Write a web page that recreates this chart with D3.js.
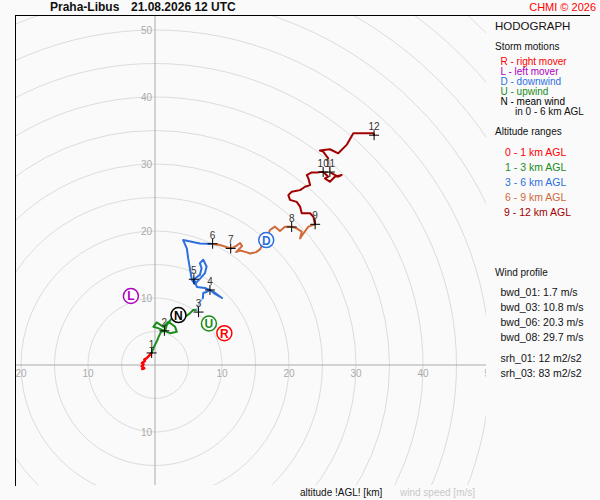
<!doctype html>
<html lang="en">
<head>
  <meta charset="utf-8">
  <script src="https://cdnjs.cloudflare.com/ajax/libs/d3/7.8.5/d3.min.js"></script>
  <style>
    body { margin:0; background:#fafafa; }
    svg { display:block; font-family:"Liberation Sans", Arial, sans-serif; }
  </style>
</head>
<body>
<svg id="chart" width="600" height="500"></svg>
<script>
  // hodograph traces, [u, v] in m/s, one array per altitude range
  var seg01 = [[-1.9,-0.6],[-1.6,-0.5],[-2.0,-0.2],[-1.7,0.1],[-1.95,0.3],[-1.5,0.6],[-1.6,0.8],[-1.2,1.05],[-0.9,1.35],[-0.5,1.8]];
  var seg13 = [[-0.5,1.8],[-0.15,2.7],[0.3,3.6],[0.6,4.35],[0.9,4.95],[1.4,5.1],[0.45,5.5],[-0.25,5.7],[0.25,6.35],[1.25,5.7],[2.0,6.45],[3.0,5.7],[3.25,4.95],[2.25,4.75],[1.5,5.05],[1.75,5.95],[2.5,6.95],[3.5,6.45],[4.5,7.2],[5.2,7.7],[5.7,8.2],[6.3,8.25]];
  var seg36gap = [[6.3,8.25],[6.6,9.25],[7.15,10.0]];
  var seg36 = [[7.15,10.0],[7.2,10.75],[7.7,10.9],[8.2,11.2],[8.95,10.6],[10.0,10.0],[8.8,10.9],[7.45,11.5],[6.25,11.65],[6.0,12.4],[5.8,12.8],[6.7,13.45],[6.95,14.45],[6.7,15.2],[7.2,15.7],[7.7,14.7],[7.45,13.7],[6.7,12.85],[5.95,12.1],[5.5,12.7],[5.2,14.45],[4.95,15.95],[4.75,17.4],[4.2,18.65],[6.7,18.15],[8.6,18.05]];
  var seg69 = [[8.6,18.05],[9.7,17.9],[11.35,17.4],[12.1,17.75],[12.7,18.2],[13.0,17.75],[12.1,16.85],[12.7,17.1],[13.6,16.85],[14.2,16.65],[15.1,16.85],[15.7,17.3],[16.0,17.9],[16.6,18.7],[17.15,20.15],[17.9,20.65],[18.65,20.0],[19.4,20.65],[20.4,20.65],[21.15,20.4],[21.9,19.9],[21.65,18.9],[22.1,19.55],[22.9,20.65],[23.9,21.0]];
  var seg912 = [[23.9,21.0],[23.65,22.1],[23.15,22.65],[21.9,22.65],[21.65,23.65],[21.15,24.35],[20.15,24.65],[19.9,25.35],[20.4,25.85],[21.65,26.1],[22.4,26.6],[23.15,26.85],[22.9,27.85],[22.65,28.35],[23.4,28.75],[24.35,28.75],[25.1,28.85],[25.85,28.1],[25.35,27.85],[26.1,27.35],[26.85,28.1],[27.85,28.35],[27.35,28.1],[26.1,28.75]];
  var seg912gap = [[26.1,28.75],[26.1,29.85],[25.85,30.85]];
  var seg912b = [[25.85,30.85],[25.1,31.85],[24.6,32.0],[26.1,32.2],[27.35,31.6],[28.6,32.85],[29.6,34.6],[32.6,34.6],[32.7,34.35]];

  // km marks on the trace
  var levelKm = ["1","2","3","4","5","6","7","8","9","10","11","12"];
  var levelU = [-0.5,1.4,6.5,8.2,5.8,8.6,11.3,20.4,23.9,25.1,26.1,32.7];
  var levelV = [1.8,5.1,7.9,11.2,12.8,18.1,17.4,20.6,21.0,28.8,28.8,34.3];

  // storm motions
  var stormName = ["R","L","D","U","N"];
  var stormU = [10.35,-3.6,16.6,8.05,3.5];
  var stormV = [4.75,10.3,18.65,6.2,7.45];
  var stormColor = ["#ff0000","#b000c0","#2c6fe0","#1a8c1a","#000000"];

  var xTicks = [-20,-10,10,20,30,40,50];
  var yTicks = [-10,10,20,30,40,50];
  var rings = d3.range(5, 80, 5);

  var windProfile = ["bwd_01: 1.7 m/s","bwd_03: 10.8 m/s","bwd_06: 20.3 m/s","bwd_08: 29.7 m/s"];
  var srhValues = ["srh_01: 12 m2/s2","srh_03: 83 m2/s2"];

  var svg = d3.select("#chart");
  var x = d3.scaleLinear().domain([-20, 50]).range([21, 490]);
  var y = d3.scaleLinear().domain([-10, 50]).range([432, 30]);
  var x0 = x(0), y0 = y(0);

  svg.append("defs").append("clipPath").attr("id","plot")
    .append("rect").attr("x",15).attr("y",15).attr("width",471).attr("height",470);

  var plot = svg.append("g").attr("clip-path","url(#plot)");

  plot.selectAll("circle.ring").data(rings).enter().append("circle")
    .attr("class","ring")
    .attr("cx", x0).attr("cy", y0)
    .attr("r", function(d){ return x(d) - x0; })
    .attr("fill","none").attr("stroke","#dcdcdc").attr("stroke-width",1);

  plot.append("line").attr("x1",15).attr("x2",486).attr("y1",y0).attr("y2",y0).attr("stroke","#aaa");
  plot.append("line").attr("x1",x0).attr("x2",x0).attr("y1",15).attr("y2",485).attr("stroke","#aaa");

  plot.selectAll("text.xt").data(xTicks).enter().append("text")
    .attr("x", function(d){ return x(d); }).attr("y", y0 + 12)
    .attr("text-anchor","middle").attr("font-size",10).attr("fill","#aaa")
    .text(function(d){ return Math.abs(d); });
  plot.selectAll("text.yt").data(yTicks).enter().append("text")
    .attr("x", x0 - 3).attr("y", function(d){ return y(d) + 3.5; })
    .attr("text-anchor","end").attr("font-size",10).attr("fill","#aaa")
    .text(function(d){ return Math.abs(d); });

  var line = d3.line().x(function(d){ return x(d[0]); }).y(function(d){ return y(d[1]); });
  function trace(data, color, w){
    plot.append("path").datum(data).attr("d", line)
      .attr("fill","none").attr("stroke", color).attr("stroke-width", w)
      .attr("stroke-linejoin","round").attr("stroke-linecap","round");
  }
  trace(seg01, "#ff0000", 2.5);
  trace(seg13, "#1a8c1a", 2);
  trace(seg36gap, "#a8c4f0", 2);
  trace(seg36, "#2c6fe0", 2);
  trace(seg69, "#d06a3a", 2);
  trace(seg912, "#a00000", 2);
  trace(seg912gap, "#f0b8b8", 2);
  trace(seg912b, "#a00000", 2);

  levelKm.forEach(function(k, i){
    var px = x(levelU[i]), py = y(levelV[i]);
    plot.append("path").attr("d", "M"+(px-5)+","+py+"H"+(px+5)+"M"+px+","+(py-5)+"V"+(py+5))
      .attr("stroke","#000").attr("stroke-width",1);
    plot.append("text").attr("x", px).attr("y", py - 5)
      .attr("text-anchor","middle").attr("font-size",10).attr("fill","#333").text(k);
  });

  stormName.forEach(function(s, i){
    var g = plot.append("g").attr("transform","translate("+x(stormU[i])+","+y(stormV[i])+")");
    g.append("circle").attr("r",7.5).attr("fill","#fff").attr("stroke", stormColor[i]).attr("stroke-width",1.5);
    g.append("text").attr("y",4.5).attr("text-anchor","middle").attr("font-size",12)
      .attr("font-weight","bold").attr("fill", stormColor[i]).text(s);
  });

  // frame
  svg.append("line").attr("x1",15).attr("x2",590).attr("y1",15.5).attr("y2",15.5).attr("stroke","#000");
  svg.append("line").attr("x1",15.5).attr("x2",15.5).attr("y1",15).attr("y2",486).attr("stroke","#000");

  svg.append("text").attr("x",50).attr("y",11).attr("font-size",12).attr("font-weight","bold")
    .attr("fill","#111").text("Praha-Libus");
  svg.append("text").attr("x",131).attr("y",11).attr("font-size",12).attr("font-weight","bold")
    .attr("fill","#111").text("21.08.2026 12 UTC");
  svg.append("text").attr("x",596).attr("y",11).attr("text-anchor","end").attr("font-size",11)
    .attr("fill","#ff0000").text("CHMI \u00a9 2026");

  svg.append("text").attr("x",300).attr("y",496).attr("font-size",10).attr("fill","#111").text("altitude !AGL! [km]");
  svg.append("text").attr("x",400).attr("y",496).attr("font-size",10).attr("fill","#c8c8c8").text("wind speed [m/s]");

  // legend
  var leg = svg.append("g").attr("font-size",10.5).attr("fill","#111");
  leg.append("text").attr("x",495).attr("y",30).attr("font-size",11.5).text("HODOGRAPH");
  leg.append("text").attr("x",495).attr("y",50).attr("font-size",10).text("Storm motions");
  var stormText = ["R - right mover","L - left mover","D - downwind","U - upwind","N - mean wind"];
  stormText.forEach(function(t, i){
    leg.append("text").attr("x",500.5).attr("y",65 + i*10).attr("font-size",10)
      .attr("fill", stormColor[i]).text(t);
  });
  leg.append("text").attr("x",515).attr("y",115).attr("font-size",10).text("in 0 - 6 km AGL");
  leg.append("text").attr("x",495).attr("y",135).attr("font-size",10).text("Altitude ranges");
  var altText = ["0 - 1 km AGL","1 - 3 km AGL","3 - 6 km AGL","6 - 9 km AGL","9 - 12 km AGL"];
  var altColor = ["#ff0000","#1a8c1a","#2c6fe0","#d06a3a","#a00000"];
  altText.forEach(function(t, i){
    leg.append("text").attr("x", i == 4 ? 504 : 505).attr("y",155.5 + i*15).attr("font-size",10.5)
      .attr("fill", altColor[i]).text(t);
  });
  leg.append("text").attr("x",495).attr("y",276).attr("font-size",10).text("Wind profile");
  windProfile.forEach(function(t, i){
    leg.append("text").attr("x",500.5).attr("y",296 + i*15).attr("font-size",10.5).text(t);
  });
  srhValues.forEach(function(t, i){
    leg.append("text").attr("x",500.5).attr("y",361.5 + i*15).attr("font-size",10.5).text(t);
  });
</script>
</body>
</html>
